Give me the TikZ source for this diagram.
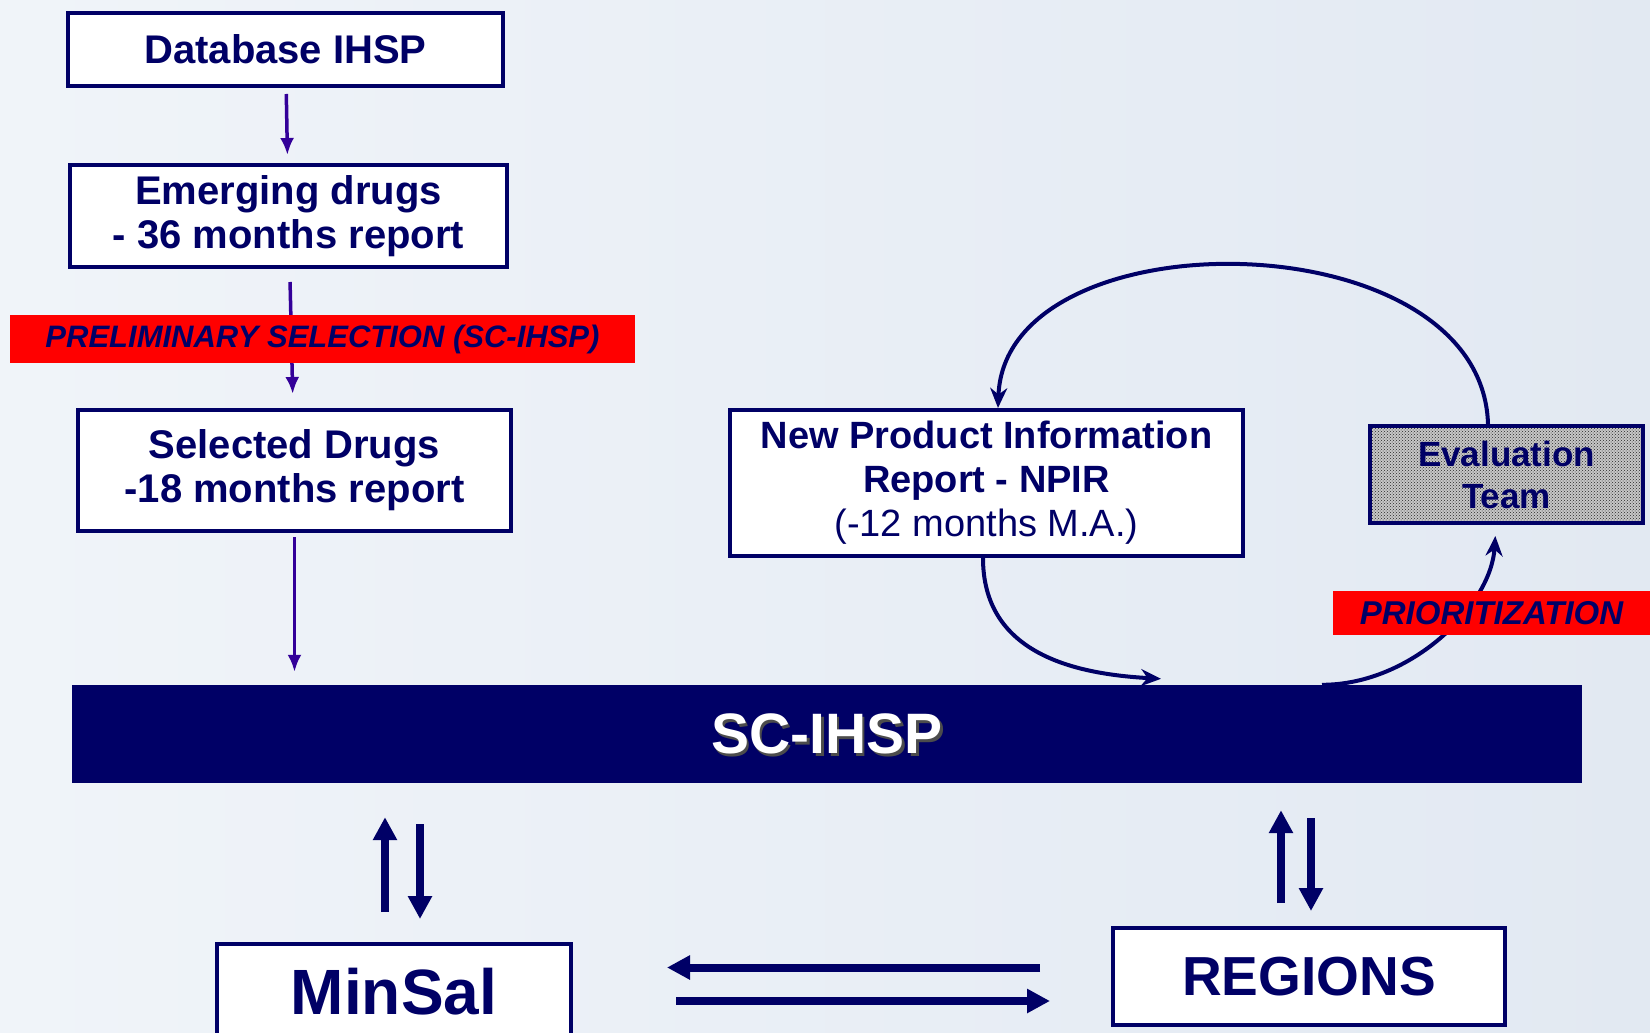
\documentclass[tikz,border=0pt]{standalone}
\usepackage{fontspec}
\setmainfont{Liberation Sans}
\usetikzlibrary{shapes,arrows,arrows.meta,fit,patterns,positioning}
\definecolor{navy}{RGB}{0,0,102}
\definecolor{indigo}{RGB}{51,0,153}
\definecolor{bgblue}{RGB}{226,233,242}
\definecolor{bglight}{RGB}{240,244,249}
\newcommand{\fs}[2]{\fontsize{#1}{#2}\selectfont}
\tikzstyle{line} = [draw=indigo, line width=3.5pt, -{Latex[length=17pt,width=14pt]}]
\tikzstyle{block} = [rectangle, draw=navy, line width=4pt, fill=white, text=navy, align=center, inner sep=0pt, font=\bfseries\fs{40}{44}]
\tikzstyle{redband} = [rectangle, fill=red, text=navy, inner sep=0pt, font=\bfseries\itshape\fs{31}{34}]
\tikzstyle{flow} = [draw=navy, line width=4pt, -{Stealth[length=20pt,width=17pt]}]
\tikzstyle{bigarrow} = [draw=navy, line width=8pt, -{Triangle[length=23pt,width=23pt]}]

\begin{document}
\begin{tikzpicture}[x=1pt, y=-1pt, node distance=2cm]
	\useasboundingbox (0,0) rectangle (1650,1033);
	\clip (0,0) rectangle (1650,1033);
	\shade[left color=bglight, right color=bgblue] (0,0) rectangle (1650,1033);
	% left column
	\node [block, minimum width=435pt, minimum height=73pt] (db) at (285.5,49.5) {Database IHSP};
	\node [block, below of=db, node distance=166.5pt, xshift=3pt, minimum width=437pt, minimum height=102pt] (emerging) {Emerging drugs\\- 36 months report};
	\node [block, below of=emerging, node distance=254.5pt, xshift=6pt, minimum width=433pt, minimum height=121pt] (selected) {Selected Drugs\\-18 months report};
	% central bar
	\node [rectangle, fill=navy, minimum width=1510pt, minimum height=98pt, inner sep=0pt] (sc) at (827,734) {};
	\node [text=black!70, font=\bfseries\fs{57}{60}] at ([xshift=2.5pt,yshift=-2.5pt]sc.center) {SC-IHSP};
	\node [text=white, font=\bfseries\fs{57}{60}] at (sc.center) {SC-IHSP};
	% right part
	\node [block, minimum width=513pt, minimum height=146pt, font=\fs{38}{44}] (npir) at (986.5,483) {\bfseries New Product Information\\\bfseries Report - NPIR\\(-12 months M.A.)};
	\node [block, minimum width=273pt, minimum height=97pt, font=\bfseries\fs{35}{42}, preaction={fill=black!22}, pattern=crosshatch dots, pattern color=black!85] (eval) at (1506.5,474.5) {Evaluation\\Team};
	% bottom
	\node [block, minimum width=354pt, minimum height=96pt, font=\bfseries\fs{64}{68}] (minsal) at (394,992) {MinSal};
	\node [block, minimum width=392pt, minimum height=97pt, font=\bfseries\fs{55}{60}] (regions) at (1309,976.5) {REGIONS};
	% arrows of the left column
	\path [line, shorten <=6pt, shorten >=8pt] (db) -- (emerging);
	\path [line, shorten <=13pt, shorten >=14pt] (emerging) -- (selected);
	\path [line, shorten <=4pt, shorten >=13pt] (selected.south) -- (selected.south |- sc.north);
	\node [redband, minimum width=625pt, minimum height=48pt] (prelim) at (322.5,339) {PRELIMINARY SELECTION (SC-IHSP)};
	% evaluation loop
	\draw [flow] ([xshift=-18.5pt]eval.north) .. controls +(-6,-206) and +(7,-195) .. ([xshift=11.5pt]npir.north);
	\draw [flow] ([xshift=-3.5pt]npir.south) .. controls +(0,94) and +(-90,-5) .. ([xshift=334pt,yshift=6pt]sc.north);
	\draw [flow, shorten >=11pt] ([xshift=495pt]sc.north) .. controls +(90,0) and +(-5,80) .. ([xshift=-10.5pt]eval.south);
	\node [redband, minimum width=317pt, minimum height=44pt, font=\bfseries\itshape\fs{33}{36}] (prior) at (1491.5,613) {PRIORITIZATION};
	% exchanges
	\coordinate (msup) at ([xshift=-9pt]minsal.north);
	\coordinate (msdown) at ([xshift=26pt]minsal.north);
	\coordinate (rgup) at ([xshift=-28pt]regions.north);
	\coordinate (rgdown) at ([xshift=2pt]regions.north);
	\coordinate (rgleft) at ([yshift=9pt]regions.west);
	\coordinate (rgright) at ([yshift=-24.5pt]regions.west);
	\path [bigarrow, shorten <=30pt, shorten >=34pt] (msup) -- (msup |- sc.south);
	\path [bigarrow, shorten <=41pt, shorten >=23pt] (msdown |- sc.south) -- (msdown);
	\path [bigarrow, shorten <=23pt, shorten >=27pt] (rgup) -- (rgup |- sc.south);
	\path [bigarrow, shorten <=35pt, shorten >=15pt] (rgdown |- sc.south) -- (rgdown);
	\path [bigarrow, shorten <=71pt, shorten >=94pt] (rgleft) -- (minsal.east |- rgleft);
	\path [bigarrow, shorten <=103pt, shorten >=61pt] (minsal.east |- rgright) -- (rgright);
\end{tikzpicture}
\end{document}
